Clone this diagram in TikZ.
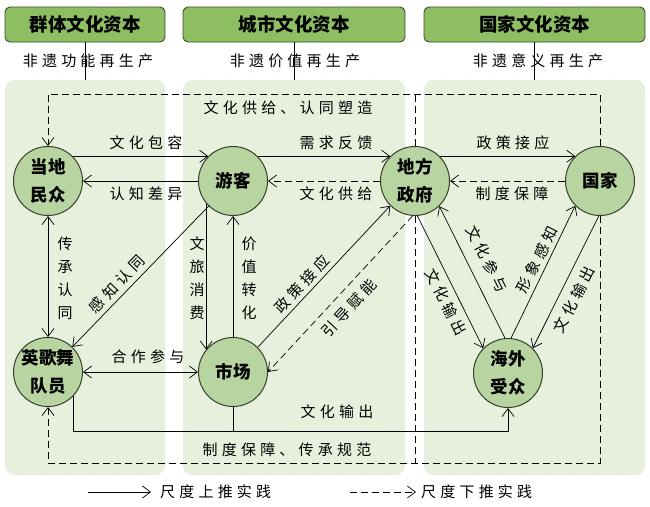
\documentclass[tikz,border=0pt]{standalone}
\usepackage{fontspec}
\setmainfont{Noto Sans CJK SC}
\usetikzlibrary{arrows.meta,calc}
\definecolor{hdrfill}{HTML}{8DBE62}
\definecolor{hdrdraw}{HTML}{3C4A30}
\definecolor{nodefill}{HTML}{B8D4A0}
\definecolor{nodedraw}{HTML}{33402B}
\definecolor{panelfill}{HTML}{E7F0DD}
\definecolor{paneldraw}{HTML}{C3D2B5}
\newcommand\lblfont{\fontsize{15}{23}\selectfont\addfontfeature{LetterSpace=28}}
\tikzset{
  hdr/.style={draw=hdrdraw, fill=hdrfill, rounded corners=5pt, line width=0.9pt,
    minimum height=35pt, inner sep=0pt, font=\fontsize{18.5}{20}\selectfont\bfseries},
  panel/.style={draw=paneldraw, fill=panelfill, dotted, rounded corners=10pt, inner sep=0pt},
  actor/.style={circle, draw=nodedraw, fill=nodefill, line width=1pt, minimum size=69pt,
    inner sep=0pt, align=center, font=\fontsize{17.5}{28}\selectfont\bfseries},
  lbl/.style={font=\lblfont, inner sep=0pt},
  vlbl/.style={lbl, align=center},
  arr/.style={-{Straight Barb[length=8pt,width=12pt]}, line width=0.7pt},
  biarr/.style={{Straight Barb[length=8pt,width=12pt]}-{Straight Barb[length=8pt,width=12pt]}, line width=0.7pt},
  dsh/.style={dash pattern=on 7pt off 4pt, line width=0.7pt},
  plain/.style={line width=0.7pt},
}
\begin{document}
\begin{tikzpicture}[x=1pt,y=-1pt]
\useasboundingbox[fill=white] (0,0) rectangle (650,506);
% panels
\node[panel, minimum width=160pt, minimum height=395pt] (p1) at (85,277.5) {};
\node[panel, minimum width=222pt, minimum height=395pt] (p2) at (294,277.5) {};
\node[panel, minimum width=221pt, minimum height=395pt] (p3) at (534.5,277.5) {};
% headers
\node[hdr, minimum width=160pt] (h1) at (85,24.5) {群体文化资本};
\node[hdr, minimum width=222pt] (h2) at (294,24.5) {城市文化资本};
\node[hdr, minimum width=221pt] (h3) at (534.5,24.5) {国家文化资本};
\draw[line width=0.6pt] (h1.south) -- (p1.north);
\draw[line width=0.6pt] (h2.south) -- (p2.north);
\draw[line width=0.6pt] (h3.south) -- (p3.north);
\node[lbl] (s1) at (88,61) {非遗功能再生产};
\node[lbl] (s2) at (295,61) {非遗价值再生产};
\node[lbl] (s3) at (538,61) {非遗意义再生产};
% actors
\node[actor] (dm) at (48,181) {当地\\民众};
\node[actor] (yk) at (233,181) {游客};
\node[actor] (zf) at (415,181) {地方\\政府};
\node[actor] (gj) at (600,181) {国家};
\node[actor] (yg) at (48,372) {英歌舞\\队员};
\node[actor] (sc) at (233,372) {市场};
\node[actor] (hw) at (508,373) {海外\\受众};
\coordinate (topy) at (0,94);
\coordinate (boty) at (0,463);
\coordinate (busy) at (0,431);
% outer dashed paths
\draw[dsh, arr] (gj.north) -- (gj.north |- topy) -| (dm.north);
\draw[dsh] (zf.north) -- (zf.north |- topy);
\draw[dsh, arr] (gj.south) -- (gj.south |- boty) -| (yg.south);
\draw[dsh] (zf.south) -- (zf.south |- boty);
\node[lbl] (tl) at (288,108) {文化供给、认同塑造};
\node[lbl] (bl) at (287,450) {制度保障、传承规范};
% top row
\draw[arr] (dm.45) -- (yk.135);
\draw[arr] (yk) -- (dm);
\draw[arr] (yk.45) -- (zf.135);
\draw[arr, dsh] (zf) -- (yk);
\draw[arr] (zf.45) -- (gj.135);
\draw[arr, dsh] (gj) -- (zf);
\node[lbl] at (146,143) {文化包容};
\node[lbl] at (146,194) {认知差异};
\node[lbl] at (336,143) {需求反馈};
\node[lbl] at (336,194) {文化供给};
\node[lbl] at (513,143) {政策接应};
\node[lbl] at (512,194) {制度保障};
% left / middle
\draw[biarr] (yg) -- (dm);
\node[vlbl] at (65,278) {传\\承\\认\\同};
\draw[arr] (yk) -- (yg);
\node[lbl, rotate=46] at (117,284) {感知认同};
\draw[arr] (yk.220) -- (sc.140);
\node[vlbl] at (197,278) {文\\旅\\消\\费};
\draw[arr] (sc) -- (yk);
\node[vlbl] at (249,278) {价\\值\\转\\化};
\draw[arr] (sc.45) -- (zf.225);
\node[lbl, rotate=47] at (302,284) {政策接应};
\draw[arr, dsh] (zf.266) -- (sc.east);
\node[lbl, rotate=47] at (349,308) {引导赋能};
\draw[biarr] (yg) -- (sc);
\node[lbl] at (148,357) {合作参与};
% bottom bus
\draw[arr] (yg.317) -- (yg.317 |- busy) -| (hw.south);
\draw[plain] (sc.south) -- (sc.south |- busy);
\node[lbl] at (337,412) {文化输出};
% right triangle
\draw[arr] (zf.274) -- (hw.135);
\node[lbl, rotate=-63] at (446,302) {文化输出};
\draw[arr] (hw.95) -- (zf.314);
\node[lbl, rotate=-63] at (487,259) {文化参与};
\draw[arr] (hw.85) -- (gj.225);
\node[lbl, rotate=63] at (537,260) {形象感知};
\draw[arr] (gj.268) -- (hw.45);
\node[lbl, rotate=63] at (574,300) {文化输出};
% legend
\coordinate (la1) at (88,492);
\coordinate (la2) at (151,492);
\coordinate (lb1) at (350,492);
\coordinate (lb2) at (416,492);
\draw[arr] (la1) -- (la2);
\node[lbl, anchor=west] (lt1) at (160,492) {尺度上推实践};
\draw[arr, dsh] (lb1) -- (lb2);
\node[lbl, anchor=west] (lt2) at (421,492) {尺度下推实践};
\end{tikzpicture}
\end{document}
